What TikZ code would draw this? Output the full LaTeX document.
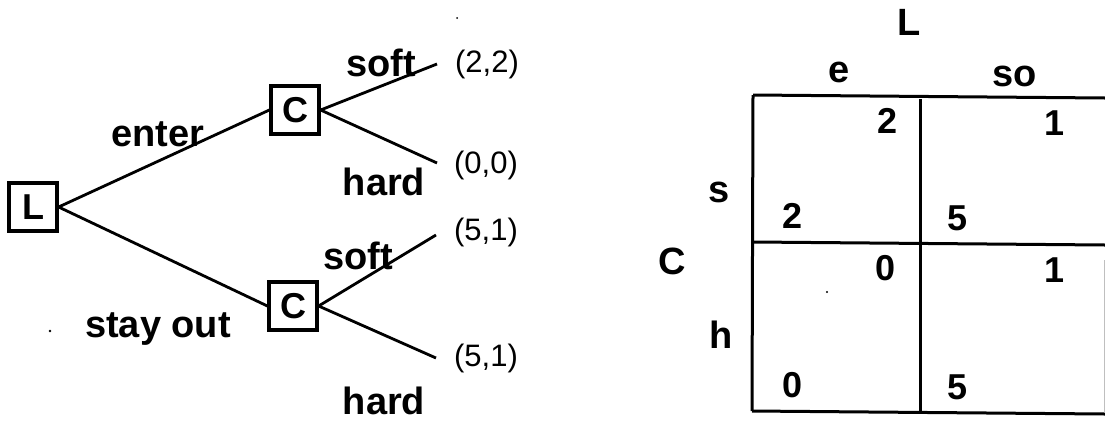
\documentclass[tikz,border=0pt]{standalone}
\usepackage{fontspec}
\setmainfont{Liberation Sans}
\begin{document}
\begin{tikzpicture}[x=1pt,y=-1pt,
  player/.style={draw,line width=3.2pt,minimum width=48pt,minimum height=48pt,inner sep=0pt,font=\fontsize{36}{36}\selectfont\bfseries},
  edge/.style={line width=2.8pt},
  lab/.style={font=\fontsize{38}{38}\selectfont\bfseries,inner sep=0pt},
  pay/.style={font=\fontsize{31}{31}\selectfont,inner sep=0pt},
  num/.style={font=\fontsize{36}{36}\selectfont\bfseries,inner sep=0pt},
  grid/.style={line width=3pt}]
\useasboundingbox (0,0) rectangle (1105,421);
% tree
\node[player] (L) at (33,207) {L};
\node[player] (C1) at (295,110) {C};
\node[player] (C2) at (293,306) {C};
\coordinate (a1) at (437,64);
\coordinate (a2) at (437,163);
\coordinate (b1) at (436,235);
\coordinate (b2) at (436,358);
\draw[edge] (L.east) -- (C1.west);
\draw[edge] (L.east) -- (C2.west);
\draw[edge] (C1.east) -- (a1);
\draw[edge] (C1.east) -- (a2);
\draw[edge] (C2.east) -- (b1);
\draw[edge] (C2.east) -- (b2);
\node[lab] (enter) at (158,134) {enter};
\node[lab] (stay) at (158,329) {stay out};
\node[lab] (s1) at (381,63) {soft};
\node[lab] (h1) at (384,182) {hard};
\node[lab] (s2) at (358,256) {soft};
\node[lab] (h2) at (384,401) {hard};
\node[pay] (p1) at (487,64) {(2,2)};
\node[pay] (p2) at (486,165) {(0,0)};
\node[pay] (p3) at (486,232) {(5,1)};
\node[pay] (p4) at (486,358) {(5,1)};
\fill (50,331) circle (1.3pt);
\fill (457,18) circle (1pt);
% matrix
\draw[grid] (753,95) -- (1105,98);
\draw[grid] (753,242) -- (1105,245);
\draw[grid] (752,411) -- (1105,414);
\draw[grid] (753,95) -- (752,411);
\draw[grid] (920,99) -- (920,412);
\draw[line width=0.5pt,gray!50] (1104,260) -- (1104,412);
\node[lab] (ML) at (909,22) {L};
\node[lab] (Me) at (839,72) {e};
\node[lab] (Mso) at (1015,76) {so};
\node[lab] (MC) at (672,261) {C};
\node[lab] (Ms) at (719,192) {s};
\node[lab] (Mh) at (721,335) {h};
\node[num] (n1) at (887,121) {2};
\node[num] (n2) at (1054,123) {1};
\node[num] (n3) at (792,216) {2};
\node[num] (n4) at (957,218) {5};
\node[num] (n5) at (885,268) {0};
\node[num] (n6) at (1054,270) {1};
\node[num] (n7) at (792,385) {0};
\node[num] (n8) at (957,387) {5};
\fill (827,292) circle (1.2pt);
\end{tikzpicture}
\end{document}
